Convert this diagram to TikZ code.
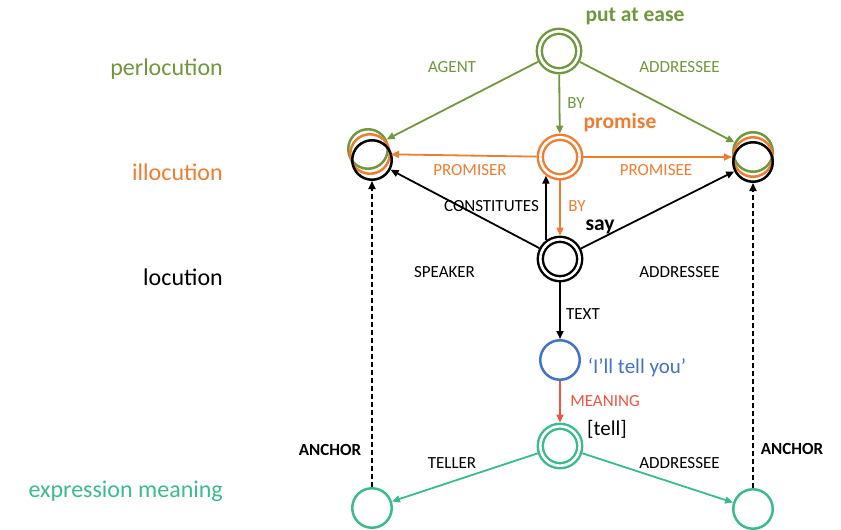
\documentclass[tikz,border=0pt]{standalone}
\usepackage{fontspec}
\setmainfont{Carlito}
\usetikzlibrary{arrows.meta}
\definecolor{cgreen}{RGB}{112,150,62}
\definecolor{corange}{RGB}{237,125,49}
\definecolor{cblue}{RGB}{68,114,196}
\definecolor{cteal}{RGB}{60,186,140}
\definecolor{cred}{RGB}{235,85,65}
\begin{document}
\begin{tikzpicture}[x=1pt,y=-1pt,
  ring/.style={circle,draw,line width=2.4pt,double=white,double distance=2.6pt,minimum size=39.4pt,inner sep=0pt,outer sep=3.7pt},
  onering/.style={circle,draw,line width=2.5pt,minimum size=39.5pt,inner sep=0pt,outer sep=1.25pt},
  conn/.style={line width=1.8pt,-{Triangle[length=8pt,width=7pt]}},
  anc/.style={conn,dash pattern=on 5pt off 3pt},
  lbl/.style={font=\fontsize{17}{20}\selectfont,anchor=base,inner sep=0pt},
  ttl/.style={font=\bfseries\fontsize{21.5}{24}\selectfont,anchor=base,inner sep=0pt},
  lvl/.style={font=\fontsize{24}{28}\selectfont,anchor=base east,inner sep=0pt}]
\useasboundingbox (0,0) rectangle (841,530);

% level labels
\node[lvl,text=cgreen] (lperl) at (223,75) {perlocution};
\node[lvl,text=corange] (lill) at (223,180) {illocution};
\node[lvl,text=black] (lloc) at (223,285) {locution};
\node[lvl,text=cteal] (lexp) at (223,497) {expression meaning};

% main nodes
\node[ring,draw=cgreen] (pae) at (559,51) {};
\node[ring,draw=corange] (prom) at (560,157) {};
\node[ring,draw=black] (say) at (560,259) {};
\node[onering,draw=cblue] (utt) at (560,360) {};
\node[ring,draw=cteal] (tell) at (560,446) {};
\node[onering,draw=cteal] (bl) at (372,508) {};
\node[onering,draw=cteal] (br) at (753,509) {};

% overlapping participant circles
\node[onering,draw=cgreen] (lg) at (368,149) {};
\node[onering,draw=corange] (lo) at (370,154) {};
\node[onering,draw=black] (lk) at (372,160) {};
\node[onering,draw=cgreen] (rg) at (753,152) {};
\node[onering,draw=corange] (ro) at (753,157) {};
\node[onering,draw=black] (rk) at (753,162) {};

% node titles
\node[ttl,text=cgreen] (tpae) at (635,21) {put at ease};
\node[ttl,text=corange] (tprom) at (620,128) {promise};
\node[ttl,text=black] (tsay) at (600,230) {say};
\node[anchor=base,inner sep=0pt,font=\fontsize{21}{24}\selectfont,text=cblue] (tutt) at (637,373) {‘I’ll tell you’};
\node[anchor=base,inner sep=0pt,font=\fontsize{21}{24}\selectfont,text=black] (ttell) at (607,435) {[tell]};

% connectors
\draw[conn,cgreen] (pae) -- (lg);
\draw[conn,cgreen] (pae) -- (rg);
\draw[conn,cgreen] (pae) -- (prom);
\draw[conn,corange] (prom) -- (lo);
\draw[conn,corange] (prom) -- (ro);
\draw[conn,corange] (prom) -- (say);
\draw[conn,black] (say.127) -- (prom.233);
\draw[conn,black] (say) -- (lk);
\draw[conn,black] (say) -- (rk);
\draw[conn,black] (say) -- (utt);
\draw[conn,cred] (utt) -- (tell);
\draw[conn,cteal] (tell) -- (bl);
\draw[conn,cteal] (tell) -- (br);
\draw[anc,black] (bl) -- (lk);
\draw[anc,black] (br) -- (rk);

% connector labels
\node[lbl,text=cgreen] (eagent) at (452,72) {AGENT};
\node[lbl,text=cgreen] (eaddr1) at (679.5,72) {ADDRESSEE};
\node[lbl,text=cgreen] (eby1) at (576,108) {BY};
\node[lbl,text=corange] (eprser) at (470,175) {PROMISER};
\node[lbl,text=corange] (eprsee) at (656,175) {PROMISEE};
\node[lbl,text=corange] (eby2) at (577,211) {BY};
\node[lbl,text=black] (econst) at (491.5,211) {CONSTITUTES};
\node[lbl,text=black] (espk) at (444.5,277) {SPEAKER};
\node[lbl,text=black] (eaddr2) at (679.5,277) {ADDRESSEE};
\node[lbl,text=black] (etext) at (583,319) {TEXT};
\node[lbl,text=cred] (emean) at (605,406) {MEANING};
\node[lbl,text=black] (eteller) at (452,468) {TELLER};
\node[lbl,text=black] (eaddr3) at (679.5,468) {ADDRESSEE};
\node[lbl,font=\bfseries\fontsize{17}{20}\selectfont] (eanc1) at (330,455) {ANCHOR};
\node[lbl,font=\bfseries\fontsize{17}{20}\selectfont] (eanc2) at (792,454) {ANCHOR};
\end{tikzpicture}
\end{document}
